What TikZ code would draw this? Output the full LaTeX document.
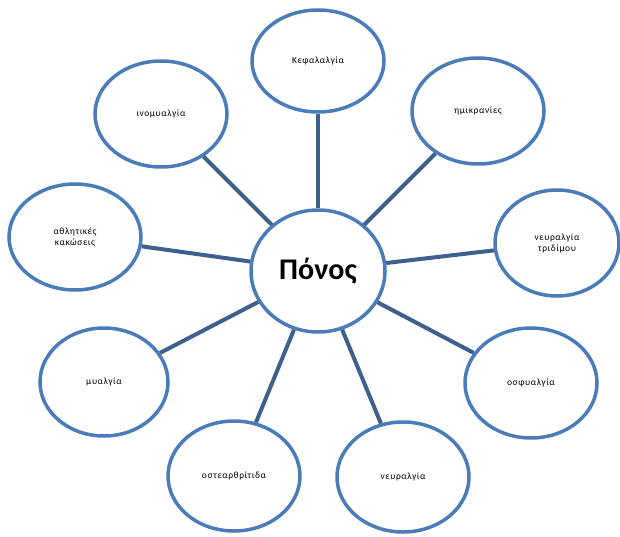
\documentclass[tikz,border=0pt]{standalone}
\usepackage{fontspec}
\setmainfont{Carlito}
\newfontfamily\smallfont[LetterSpace=6]{Carlito}
\usetikzlibrary{shapes.geometric}
\definecolor{ringblue}{RGB}{74,124,185}
\definecolor{linkblue}{RGB}{62,96,140}
\tikzset{
  bubble/.style={ellipse, draw=ringblue, line width=3.5pt, fill=white, inner sep=0pt,
     minimum width=132pt, minimum height=106pt, align=center,
     font=\smallfont\fontsize{9.5}{11}\selectfont},
  hub/.style={bubble, minimum width=134pt, minimum height=122pt, font=\bfseries\fontsize{30}{32}\selectfont},
  link/.style={draw=linkblue, line width=4pt}
}
\begin{document}
\begin{tikzpicture}[x=1pt,y=-1pt]
\useasboundingbox (0,0) rectangle (620,537);
\node[hub] (p) at (318,271) {Πόνος};
\node[bubble, minimum height=102pt] (k) at (318,61) {Κεφαλαλγία};
\node[bubble] (h) at (478,111) {ημικρανίες};
\node[bubble] (i) at (161,114) {ινομυαλγία};
\node[bubble] (a) at (75,237) {αθλητικές\\κακώσεις};
\node[bubble, minimum width=124pt] (t) at (557,243) {νευραλγία\\τριδίμου};
\node[bubble, minimum height=110pt] (o) at (531,383) {οσφυαλγία};
\node[bubble, minimum height=110pt] (n) at (403,477) {νευραλγία};
\node[bubble, minimum height=110pt] (s) at (234,476) {οστεαρθρίτιδα};
\node[bubble, minimum width=128pt, minimum height=108pt] (m) at (104,382) {μυαλγία};
\foreach \x in {k,h,i,a,t,o,n,s,m} \draw[link] (p) -- (\x);
\end{tikzpicture}
\end{document}
